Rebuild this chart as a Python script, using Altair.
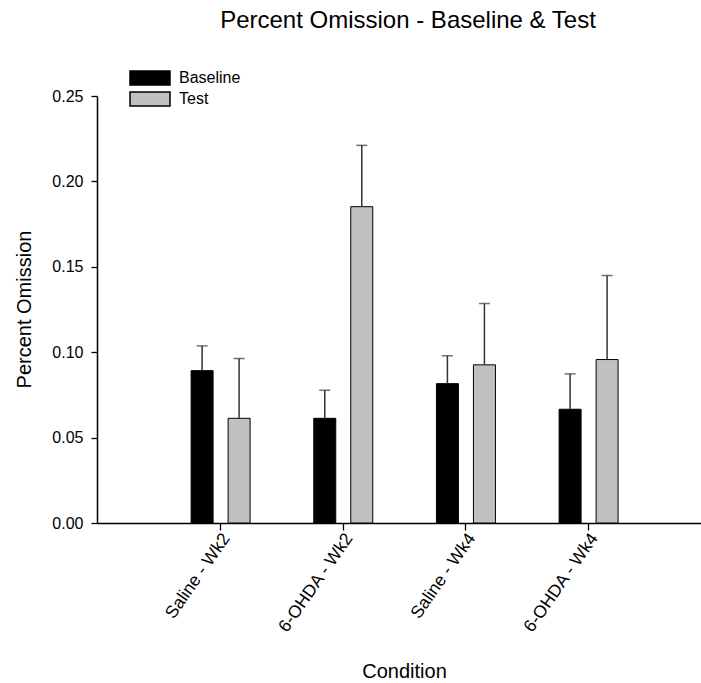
import altair as alt
import pandas as pd

conditions = ["Saline - Wk2", "6-OHDA - Wk2", "Saline - Wk4", "6-OHDA - Wk4"]
series_names = ["Baseline", "Test"]
baseline = [0.0892, 0.0613, 0.0816, 0.0666]
baseline_err = [0.0145, 0.0164, 0.0163, 0.0207]
test = [0.0613, 0.1852, 0.0926, 0.0957]
test_err = [0.0350, 0.0359, 0.0359, 0.0492]
y_ticks = [0.0, 0.05, 0.10, 0.15, 0.20, 0.25]

rows = []
for i, c in enumerate(conditions):
    rows.append({"cond": c, "series": "Baseline", "val": baseline[i], "top": baseline[i] + baseline_err[i]})
    rows.append({"cond": c, "series": "Test", "val": test[i], "top": test[i] + test_err[i]})
df = pd.DataFrame(rows)

FONT = "Liberation Sans"

xscale = alt.Scale(domain=conditions, paddingInner=0, paddingOuter=0.462, align=0.5494)
xoff_scale = alt.Scale(domain=series_names, paddingInner=0.4054, paddingOuter=0.8605)
yscale = alt.Scale(domain=[0, 0.25], nice=False, zero=True)

x_enc = alt.X(
    "cond:N",
    scale=xscale,
    sort=conditions,
    axis=alt.Axis(
        title="Condition",
        labelAngle=305,
        labelFontSize=17.5,
        labelFont=FONT,
        labelColor="black",
        labelPadding=5,
        labelOffset=6,
        tickSize=7,
        tickColor="black",
        tickWidth=1.3,
        domainColor="black",
        domainWidth=1.5,
        titleFontSize=20,
        titleFont=FONT,
        titleFontWeight="normal",
        titleColor="black",
        titleX=307,
        titleY=154,
        titleBaseline="alphabetic",
        titleAlign="center",
    ),
)
xoff_enc = alt.XOffset("series:N", scale=xoff_scale)

bars = alt.Chart(df).mark_bar(stroke="black", strokeWidth=1).encode(
    x=x_enc,
    xOffset=xoff_enc,
    y=alt.Y(
        "val:Q",
        scale=yscale,
        axis=alt.Axis(
            title="Percent Omission",
            values=y_ticks,
            format=".2f",
            grid=False,
            labelFontSize=16,
            labelFont=FONT,
            labelColor="black",
            labelPadding=8,
            tickSize=6,
            tickColor="black",
            tickWidth=1.3,
            domainColor="black",
            domainWidth=1.5,
            titleFontSize=20,
            titleFont=FONT,
            titleFontWeight="normal",
            titleColor="black",
            titleAngle=270,
            titleX=-67,
            titleY=213,
            titleBaseline="alphabetic",
            titleAlign="center",
        ),
    ),
    color=alt.Color(
        "series:N",
        scale=alt.Scale(domain=series_names, range=["black", "#c0c0c0"]),
        legend=alt.Legend(
            title=None,
            orient="none",
            legendX=45,
            legendY=-26,
            symbolType="M-2.857,-1H2.857V1H-2.857Z",
            symbolSize=196,
            symbolStrokeColor="black",
            symbolStrokeWidth=1.5,
            symbolOpacity=1,
            labelFontSize=16,
            labelFont=FONT,
            labelColor="black",
            labelOffset=21,
            rowPadding=1,
            padding=0,
        ),
    ),
)

rules = alt.Chart(df).mark_rule(color="#333333", strokeWidth=1.5).encode(
    x=alt.X("cond:N", scale=xscale, sort=conditions),
    xOffset=xoff_enc,
    y=alt.Y("val:Q", scale=yscale),
    y2="top:Q",
)

caps = alt.Chart(df).mark_tick(color="#333333", size=11, thickness=1.5).encode(
    x=alt.X("cond:N", scale=xscale, sort=conditions),
    xOffset=xoff_enc,
    y=alt.Y("top:Q", scale=yscale),
)

chart = alt.layer(bars, rules, caps).properties(
    width=604,
    height=427,
    title=alt.TitleParams(
        text="Percent Omission - Baseline & Test",
        fontSize=24,
        font=FONT,
        fontWeight="normal",
        color="black",
        anchor="middle",
        frame="group",
        baseline="alphabetic",
        offset=18,
        dx=9,
    ),
    autosize=alt.AutoSizeParams(type="none"),
    padding={"left": 97, "top": 96, "right": 0, "bottom": 160},
).configure_view(stroke=None)

chart.save("out.html", embed_options={"renderer": "svg", "actions": False})
